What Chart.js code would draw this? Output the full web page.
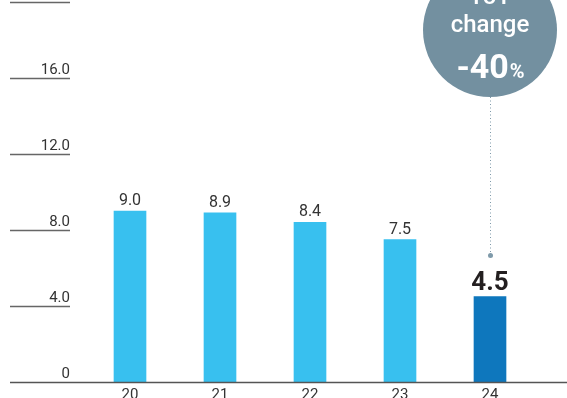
<!DOCTYPE html>
<html>
<head>
<meta charset="utf-8">
<script src="https://cdn.jsdelivr.net/npm/chart.js@4"></script>
<style>
  html, body { margin: 0; padding: 0; background: #fff; }
  #wrap { width: 567px; height: 398px; position: relative; }
</style>
</head>
<body>
<div id="wrap"><canvas id="chart"></canvas></div>
<script>
// data
const years = ['20', '21', '22', '23', '24'];
const values = [9.0, 8.9, 8.4, 7.5, 4.5];
const yTicks = [0, 4, 8, 12, 16, 20];
const yTickLabels = ['0', '4.0', '8.0', '12.0', '16.0', '20.0'];
const changeText = ['YoY', 'change', '-40'];

const light = '#38c0ef';
const dark = '#0e77bd';
const font = 'Roboto, "DejaVu Sans", sans-serif';

// custom axes, labels and the change bubble
const decor = {
    id: 'decor',
    afterDatasetsDraw(chart) {
        const ctx = chart.ctx;
        const x = chart.scales.x;
        const y = chart.scales.y;
        ctx.save();

        // y tick lines with labels sitting on top
        ctx.strokeStyle = '#666';
        ctx.lineWidth = 1.3;
        ctx.fillStyle = '#333';
        ctx.font = '15px ' + font;
        ctx.textAlign = 'right';
        ctx.textBaseline = 'alphabetic';
        yTicks.forEach(function(v, i) {
            const py = Math.round(y.getPixelForValue(v)) + 0.5;
            if (v !== 0) {
                ctx.beginPath();
                ctx.moveTo(10, py);
                ctx.lineTo(70, py);
                ctx.stroke();
            }
            ctx.fillText(yTickLabels[i], 70, py - 5);
        });

        // base line
        const by = Math.round(y.getPixelForValue(0)) + 0.5;
        ctx.strokeStyle = '#555';
        ctx.lineWidth = 1.5;
        ctx.beginPath();
        ctx.moveTo(10, by);
        ctx.lineTo(567, by);
        ctx.stroke();

        // x labels
        ctx.textAlign = 'center';
        ctx.fillStyle = '#333';
        ctx.font = '15px ' + font;
        years.forEach(function(lbl, i) {
            ctx.fillText(lbl, x.getPixelForValue(i), by + 16);
        });

        // value labels
        values.forEach(function(v, i) {
            const px = x.getPixelForValue(i);
            const py = y.getPixelForValue(v);
            if (i === values.length - 1) {
                ctx.font = 'bold 26px ' + font;
                ctx.fillStyle = '#231f20';
                ctx.fillText(v.toFixed(1), px, py - 7);
            } else {
                ctx.font = '16px ' + font;
                ctx.fillStyle = '#333';
                ctx.fillText(v.toFixed(1), px, py - 6);
            }
        });

        // change bubble
        const cx = x.getPixelForValue(values.length - 1);
        const cy = 30;
        const r = 67;
        const lastTop = y.getPixelForValue(values[values.length - 1]);
        ctx.strokeStyle = '#7f9aaa';
        ctx.lineWidth = 1;
        ctx.setLineDash([1, 2.5]);
        ctx.beginPath();
        ctx.moveTo(cx + 0.5, cy + r);
        ctx.lineTo(cx + 0.5, lastTop - 42);
        ctx.stroke();
        ctx.setLineDash([]);
        ctx.fillStyle = '#7f9aaa';
        ctx.beginPath();
        ctx.arc(cx + 0.5, lastTop - 41, 2.5, 0, Math.PI * 2);
        ctx.fill();

        ctx.fillStyle = '#7390a0';
        ctx.beginPath();
        ctx.arc(cx, cy, r, 0, Math.PI * 2);
        ctx.fill();

        ctx.fillStyle = '#fff';
        ctx.textAlign = 'center';
        ctx.font = '500 24px ' + font;
        ctx.fillText(changeText[0], cx, 4);
        ctx.fillText(changeText[1], cx, 32);
        ctx.font = 'bold 34px ' + font;
        const w1 = ctx.measureText(changeText[2]).width;
        ctx.font = 'bold 20px ' + font;
        const w2 = ctx.measureText('%').width;
        const sx = cx - (w1 + w2) / 2;
        ctx.textAlign = 'left';
        ctx.font = 'bold 34px ' + font;
        ctx.fillText(changeText[2], sx, 78);
        ctx.font = 'bold 20px ' + font;
        ctx.fillText('%', sx + w1 + 1, 78);

        ctx.restore();
    }
};

const ctx = document.getElementById('chart').getContext('2d');
const chart = new Chart(ctx, {
    type: 'bar',
    data: {
        labels: years,
        datasets: [{
            data: values,
            backgroundColor: values.map(function(v, i) { return i === values.length - 1 ? dark : light; }),
            barThickness: 32,
            borderWidth: 0
        }]
    },
    options: {
        responsive: true,
        maintainAspectRatio: false,
        animation: false,
        layout: {
            padding: { left: 85, right: 32, top: 2, bottom: 16 }
        },
        scales: {
            x: { display: false },
            y: { display: false, min: 0, max: 20 }
        },
        plugins: {
            legend: { display: false },
            tooltip: { enabled: false }
        }
    },
    plugins: [decor]
});
</script>
</body>
</html>
